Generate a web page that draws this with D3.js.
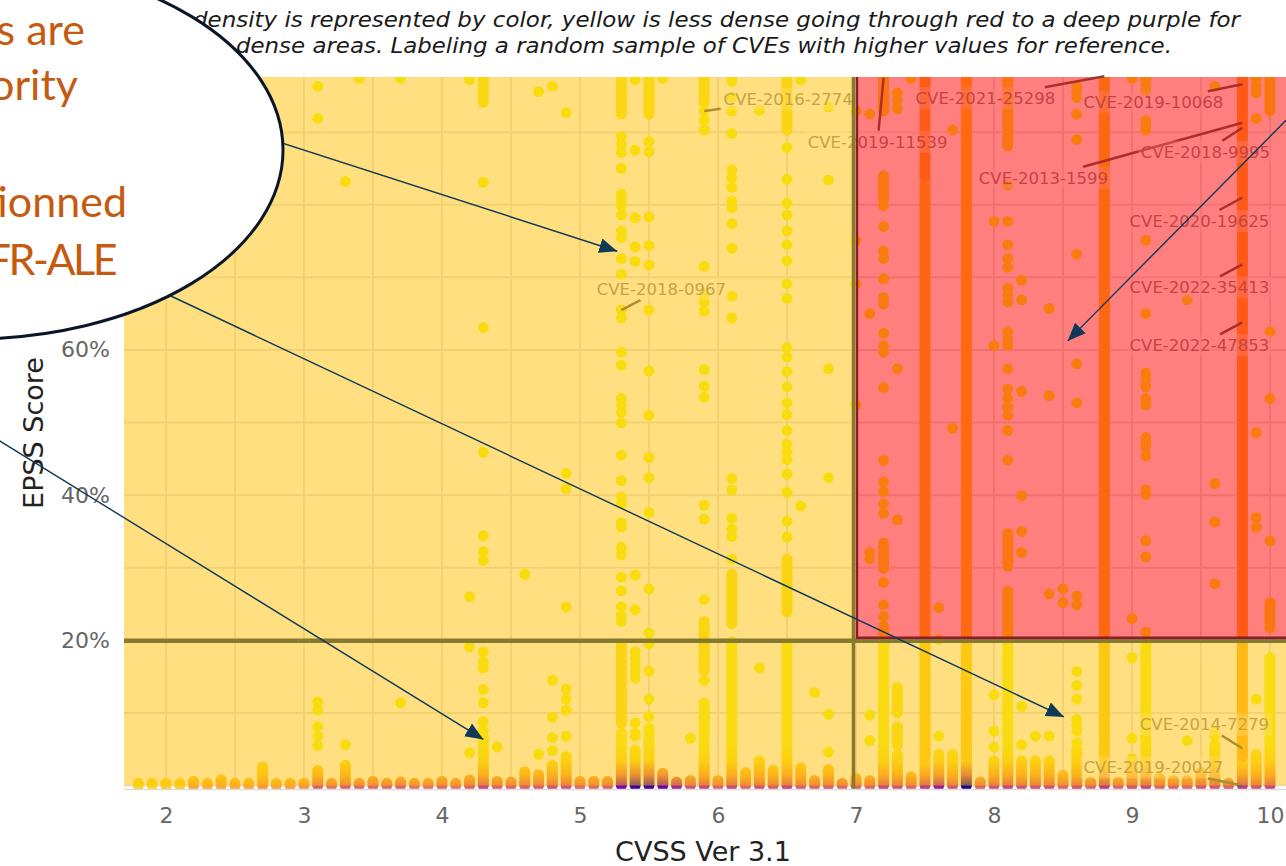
<!DOCTYPE html>
<html lang="en">
<head>
<meta charset="utf-8">
<title>CVSS vs EPSS density</title>
<script src="https://d3js.org/d3.v7.min.js"></script>
<style>
body { margin: 0; background: #fff; }
svg { display: block; font-family: "DejaVu Sans", sans-serif; }
</style>
</head>
<body>
<script>
// ---- data -----------------------------------------------------------
// every CVSS column, the top of its dense bottom stack (EPSS %) and the
// density level at EPSS ~ 0 (plasma scale, 1 = sparse yellow, 0 = dense purple)
var baseCvss = [1.8, 1.9, 2.0, 2.1, 2.2, 2.3, 2.4, 2.5, 2.6, 2.7, 2.8, 2.9, 3.0,
  3.1, 3.2, 3.3, 3.4, 3.5, 3.6, 3.7, 3.8, 3.9, 4.0, 4.1, 4.2, 4.3, 4.4, 4.5, 4.6,
  4.7, 4.8, 4.9, 5.0, 5.1, 5.2, 5.3, 5.4, 5.5, 5.6, 5.7, 5.8, 5.9, 6.0, 6.1, 6.2,
  6.3, 6.4, 6.5, 6.6, 6.7, 6.8, 6.9, 7.0, 7.1, 7.2, 7.3, 7.4, 7.5, 7.6, 7.7, 7.8,
  7.9, 8.0, 8.1, 8.2, 8.3, 8.4, 8.5, 8.6, 8.7, 8.8, 8.9, 9.0, 9.1, 9.2, 9.3, 9.4,
  9.5, 9.6, 9.7, 9.8, 9.9, 10.0];
var baseTop = [0.3, 0.3, 0.3, 0.3, 0.6, 0.3, 0.8, 0.3, 0.3, 2.6, 0.3, 0.3, 0.3,
  2.1, 0.3, 2.8, 0.3, 0.6, 0.3, 0.5, 0.3, 0.3, 0.6, 0.3, 0.8, 6.7, 0.6, 0.5, 1.9,
  1.5, 2.8, 4.0, 0.6, 0.6, 0.6, 7.2, 4.9, 7.3, 1.7, 0.5, 0.7, 11.4, 0.7, 19.8, 1.8,
  3.4, 2.1, 19.5, 2.4, 0.7, 2.2, 0.3, 1.0, 0.7, 22.0, 4.3, 1.2, 5.0, 4.3, 4.3, 5.0,
  0.5, 3.4, 26.8, 3.4, 3.4, 3.4, 1.4, 4.9, 0.5, 5.0, 0.5, 3.7, 19.8, 1.0, 0.7, 0.7,
  1.8, 5.6, 0.3, 5.0, 4.3, 17.6];
var baseFloor = [0.92, 0.92, 0.9, 0.9, 0.8, 0.82, 0.8, 0.8, 0.8, 0.75, 0.8, 0.78, 0.75,
  0.6, 0.65, 0.6, 0.62, 0.62, 0.62, 0.6, 0.65, 0.65, 0.62, 0.65, 0.6, 0.5, 0.6, 0.6, 0.58,
  0.58, 0.55, 0.55, 0.62, 0.62, 0.6, 0.25, 0.08, 0.1, 0.2, 0.38, 0.55, 0.5, 0.6, 0.5, 0.6,
  0.55, 0.58, 0.5, 0.58, 0.6, 0.58, 0.6, 0.6, 0.6, 0.5, 0.55, 0.6, 0.45, 0.35, 0.55, 0.02,
  0.6, 0.55, 0.5, 0.55, 0.55, 0.55, 0.6, 0.55, 0.6, 0.45, 0.6, 0.55, 0.5, 0.6, 0.6, 0.6,
  0.55, 0.55, 0.6, 0.45, 0.55, 0.5];

// dense vertical runs: [cvss, from EPSS %, to EPSS %, density level]
var runs = [
  [4.3, 94.1, 97.6, 0.98],
  [5.3, 92.5, 97.6, 0.97], [5.3, 8.6, 19.5, 0.96],
  [5.5, 92.5, 97.6, 0.97],
  [5.9, 94.1, 97.6, 0.97], [5.9, 15.9, 22.6, 0.96],
  [6.1, 22.3, 29.1, 0.96],
  [6.5, 90.3, 97.6, 0.96], [6.5, 23.9, 31.2, 0.96],
  [7.2, 92.9, 97.6, 0.96], [7.2, 80.8, 84.0, 0.97], [7.2, 29.9, 33.4, 0.97],
  [7.3, 10.0, 13.5, 0.97], [7.3, 5.6, 8.1, 0.97],
  [7.5, 4.0, 84.0, 0.9], [7.5, 84.0, 97.6, 0.84],
  [7.8, 4.0, 97.6, 0.91],
  [8.1, 88.1, 97.6, 0.96], [8.1, 30.2, 34.7, 0.97],
  [8.8, 4.0, 97.6, 0.9],
  [9.8, 4.0, 97.6, 0.83],
  [10.0, 92.9, 97.3, 0.97], [10.0, 21.7, 25.2, 0.97]
];

// isolated CVEs, grouped by CVSS column (EPSS %)
var scatterCols = [3.1, 3.3, 3.4, 3.7, 4.2, 4.3, 4.4, 4.6, 4.7, 4.8, 4.9, 5.3, 5.4,
  5.5, 5.6, 5.8, 5.9, 6.1, 6.3, 6.5, 6.6, 6.7, 6.8, 7.0, 7.1, 7.2, 7.3, 7.4, 7.6, 7.7,
  8.0, 8.1, 8.2, 8.3, 8.4, 8.5, 8.6, 9.0, 9.1, 9.4, 9.6, 9.9, 10.0];
var scatterEpss = [
  [96.3, 91.9, 11.5, 10.4, 8.1, 6.8, 5.5],
  [83.2, 5.6],
  [97.4],
  [97.4, 11.4],
  [97.2, 26.0, 19.1, 4.5],
  [83.1, 63.1, 45.9, 34.4, 32.2, 31.0, 18.4, 17.0, 16.2, 13.2, 11.4, 8.8, 7.6],
  [5.3],
  [29.1],
  [95.6, 4.3],
  [96.3, 14.5, 9.4, 6.6, 4.8],
  [92.7, 43.0, 40.9, 24.6, 13.3, 11.9, 10.4, 6.8],
  [89.4, 88.3, 87.2, 85.0, 81.5, 80.7, 79.9, 78.6, 76.4, 75.5, 72.6, 70.4, 65.5, 64.4,
   59.7, 57.9, 53.3, 52.4, 51.4, 50.0, 45.5, 42.0, 39.7, 38.8, 36.2, 35.6, 32.8, 31.8,
   28.7, 26.8, 24.6, 23.4, 22.6],
  [97.2, 87.5, 78.2, 74.2, 72.2, 29.0, 24.2, 18.4, 17.6, 16.6, 15.7, 14.8, 8.6, 7.2, 6.8],
  [88.7, 87.3, 78.3, 74.4, 71.7, 65.5, 57.1, 51.0, 45.2, 42.4, 37.6, 27.1, 21.0, 19.5,
   15.8, 11.9, 9.5, 7.9],
  [97.4],
  [6.5],
  [92.9, 91.6, 90.3, 71.5, 67.6, 66.6, 65.3, 57.3, 55.0, 53.5, 38.6, 36.7, 25.6, 14.5],
  [97.6, 97.0, 94.8, 92.9, 89.8, 84.8, 83.7, 82.4, 80.5, 79.6, 77.4, 74.0, 67.4, 64.4,
   42.3, 40.7, 36.8, 35.3, 34.3, 31.2],
  [93.0, 16.2],
  [87.9, 83.5, 80.2, 78.6, 76.4, 74.5, 72.3, 69.1, 67.1, 60.3, 59.0, 57.0, 54.9, 52.7,
   51.1, 48.9, 47.0, 45.9, 44.9, 42.9, 40.4, 36.4, 34.2],
  [97.2, 38.5],
  [12.8],
  [93.5, 83.4, 57.4, 42.4, 9.8, 4.6],
  [92.9, 75.1, 69.1, 52.5],
  [92.5, 65.0, 32.1, 31.2, 9.7, 6.2],
  [79.9, 77.0, 73.6, 72.6, 69.8, 67.2, 66.3, 62.3, 60.6, 59.7, 54.8, 44.8, 41.8, 40.5,
   38.8, 37.5, 28.0, 24.9, 23.3],
  [95.4, 94.3, 93.2, 57.4, 36.6],
  [97.4],
  [24.5, 20.1, 6.8],
  [90.3, 49.2],
  [77.7, 60.6, 12.5, 7.5, 5.3],
  [82.7, 77.7, 74.5, 72.6, 71.4, 68.5, 67.6, 66.6, 62.5, 61.5, 60.6, 57.4, 54.6, 53.3,
   52.1, 51.0, 48.9, 44.8],
  [69.6, 66.9, 54.3, 39.9, 35.0, 32.1, 10.9, 5.6],
  [6.8],
  [65.7, 53.7, 26.4, 6.8],
  [27.1, 25.2],
  [96.3, 95.5, 94.8, 92.5, 89.0, 73.2, 58.1, 52.7, 26.1, 24.9, 15.7, 13.8, 11.9, 9.1,
   8.3, 7.5, 5.9],
  [97.4, 23.0, 17.6, 6.5],
  [97.3, 96.5, 95.7, 91.6, 90.9, 90.3, 75.1, 65.0, 56.8, 55.9, 54.9, 53.3, 52.4, 47.9,
   47.2, 46.6, 45.4, 40.7, 40.1, 33.7, 31.5, 21.1],
  [66.9, 6.2],
  [96.3, 41.6, 36.3, 27.8, 7.5, 6.8],
  [97.3, 96.3, 95.4, 91.9, 48.6, 36.9, 35.6, 11.9],
  [62.5, 53.3, 33.7]
];

// labelled CVEs: [id, cvss, epss %]
var cveLabels = [
  ["CVE-2016-2774", 5.9, 92.9],
  ["CVE-2019-11539", 7.2, 97.5],
  ["CVE-2021-25298", 8.8, 97.7],
  ["CVE-2019-10068", 9.8, 96.6],
  ["CVE-2013-1599", 9.8, 91.3],
  ["CVE-2018-9995", 9.8, 90.6],
  ["CVE-2020-19625", 9.8, 81.0],
  ["CVE-2022-35413", 9.8, 71.8],
  ["CVE-2022-47853", 9.8, 63.8],
  ["CVE-2018-0967", 5.3, 65.5],
  ["CVE-2014-7279", 9.8, 5.1],
  ["CVE-2019-20027", 9.8, 0.0]
];
// where each label text sits relative to its point (px)
var labelOffsets = [[84, -12], [-6, 64], [-119, 22], [-89, 18], [-199, 55], [-37, 24],
  [-43, 23.5], [-43, 23], [-43, 23], [40, -21], [-38, -24], [-89, -18]];

var xTicks = [2, 3, 4, 5, 6, 7, 8, 9, 10];
var yTicks = [20, 40, 60];
var cvssCut = 7, epssCut = 20;

var titleLines = [
  "density is represented by color, yellow is less dense going through red to a deep purple for",
  "dense areas. Labeling a random sample of CVEs with higher values for reference."
];
var calloutLines = ["These CVEs are", "high priority", "mentionned", "CERT-FR-ALE"];

// arrow tips in data space [cvss, epss]; tails are in the callout (px)
var arrowTips = [[5.27, 73.6], [8.507, 9.44], [4.30, 6.35], [8.534, 61.25]];
var arrowTails = [[240, 129.4], [120, 272], [-20, 428.8], [1310, 96]];

// ---- layout ---------------------------------------------------------
var W = 1286, H = 866, R = 5.5;
var x = d3.scaleLinear().domain([1.696, 10.3]).range([124, 1311.4]);
var y = d3.scaleLinear().domain([-0.48, 97.6]).range([789, 77]);
var pl = x.range()[0], pr = x.range()[1], pt = y.range()[1], pb = y.range()[0];
var plasma = d3.interpolatePlasma;

var svg = d3.select("body").append("svg")
    .attr("width", W)
    .attr("height", H);
var defs = svg.append("defs");

defs.append("clipPath").attr("id", "plotClip")
  .append("rect")
    .attr("x", pl).attr("y", pt)
    .attr("width", pr - pl).attr("height", pb - pt);

defs.append("marker")
    .attr("id", "head")
    .attr("viewBox", "0 0 18 15")
    .attr("refX", 18).attr("refY", 7.5)
    .attr("markerWidth", 18).attr("markerHeight", 15)
    .attr("markerUnits", "userSpaceOnUse")
    .attr("orient", "auto")
  .append("path")
    .attr("d", "M0,0L18,7.5L0,15Z")
    .attr("fill", "#0f3859");

// colour ramp of each bottom stack, from its floor density up to sparse yellow
baseCvss.forEach(function(c, i) {
  var tf = baseFloor[i];
  var g = defs.append("linearGradient")
      .attr("id", "base" + i)
      .attr("gradientUnits", "userSpaceOnUse")
      .attr("x1", 0).attr("x2", 0)
      .attr("y1", y(-0.7)).attr("y2", y(6));
  [[-0.7, tf], [0.2, tf], [1.5, tf + (1 - tf) * 0.55], [3.5, 0.95], [6, 0.995]].forEach(function(s) {
    g.append("stop")
      .attr("offset", (y(s[0]) - y(-0.7)) / (y(6) - y(-0.7)))
      .attr("stop-color", plasma(s[1]));
  });
});

// plot layer (everything under the translucent zones)
var plot = svg.append("g").attr("clip-path", "url(#plotClip)");

plot.selectAll(".vgrid")
  .data(x.ticks(18))
  .enter().append("line")
    .attr("x1", function(d) { return x(d); })
    .attr("x2", function(d) { return x(d); })
    .attr("y1", pt).attr("y2", pb)
    .attr("stroke", "#e3e3e3").attr("stroke-width", 2);

plot.selectAll(".hgrid")
  .data(y.ticks(10))
  .enter().append("line")
    .attr("x1", pl).attr("x2", pr)
    .attr("y1", function(d) { return y(d); })
    .attr("y2", function(d) { return y(d); })
    .attr("stroke", "#e3e3e3").attr("stroke-width", 2);

// bottom stacks
plot.selectAll(".base")
  .data(baseCvss.map(function(c, i) { return { c: c, top: baseTop[i], i: i }; }))
  .enter().append("rect")
    .attr("x", function(d) { return x(d.c) - R; })
    .attr("y", function(d) { return y(d.top) - R; })
    .attr("width", 2 * R)
    .attr("height", function(d) { return y(0) - y(d.top) + 2 * R; })
    .attr("rx", R)
    .attr("fill", function(d) { return "url(#base" + d.i + ")"; });

// dense runs
plot.selectAll(".run")
  .data(runs)
  .enter().append("rect")
    .attr("x", function(d) { return x(d[0]) - R; })
    .attr("y", function(d) { return y(d[2]) - R; })
    .attr("width", 2 * R)
    .attr("height", function(d) { return y(d[1]) - y(d[2]) + 2 * R; })
    .attr("rx", R)
    .attr("fill", function(d) { return plasma(d[3]); });

// isolated points
var pts = [];
scatterCols.forEach(function(c, i) {
  scatterEpss[i].forEach(function(e) { pts.push([c, e]); });
});
plot.selectAll(".pt")
  .data(pts)
  .enter().append("circle")
    .attr("cx", function(d) { return x(d[0]); })
    .attr("cy", function(d) { return y(d[1]); })
    .attr("r", R)
    .attr("fill", plasma(1));

// CVE labels with leader lines
var lab = svg.append("g");
cveLabels.forEach(function(d, i) {
  var px = x(d[1]), py = y(d[2]);
  var cx = px + labelOffsets[i][0], cy = py + labelOffsets[i][1];
  var bg = lab.append("rect");
  var t = lab.append("text")
      .attr("x", cx).attr("y", cy).attr("dy", "0.36em")
      .attr("text-anchor", "middle")
      .attr("font-size", 16.5)
      .attr("fill", "#888")
      .text(d[0]);
  var hw = t.node().getComputedTextLength() / 2 + 3, hh = 11;
  bg.attr("x", cx - hw).attr("y", cy - hh)
    .attr("width", 2 * hw).attr("height", 2 * hh)
    .attr("fill", "#fff").attr("opacity", 0.35);
  var dx = px - cx, dy = py - cy;
  var s = Math.min(hw / Math.max(Math.abs(dx), 1e-6), hh / Math.max(Math.abs(dy), 1e-6));
  lab.append("line")
      .attr("x1", cx + dx * s).attr("y1", cy + dy * s)
      .attr("x2", px).attr("y2", py)
      .attr("stroke", "#5a5a5a").attr("stroke-width", 2.5);
});

// translucent zones
var zones = svg.append("g").attr("clip-path", "url(#plotClip)");
zones.append("rect")
    .attr("x", pl).attr("y", pt)
    .attr("width", x(cvssCut) - pl).attr("height", y(0) - pt)
    .attr("fill", "rgb(255,191,0)").attr("opacity", 0.5);
zones.append("rect")
    .attr("x", x(cvssCut)).attr("y", y(epssCut))
    .attr("width", pr - x(cvssCut)).attr("height", y(0) - y(epssCut))
    .attr("fill", "rgb(255,191,0)").attr("opacity", 0.5);
zones.append("rect")
    .attr("x", x(cvssCut)).attr("y", pt)
    .attr("width", pr - x(cvssCut)).attr("height", y(epssCut) - pt)
    .attr("fill", "rgb(255,0,0)").attr("opacity", 0.5);

// threshold lines
zones.append("line")
    .attr("x1", pl).attr("x2", pr)
    .attr("y1", y(epssCut) + 0.5).attr("y2", y(epssCut) + 0.5)
    .attr("stroke", "#857a30").attr("stroke-width", 4.5);
zones.append("line")
    .attr("x1", x(cvssCut) - 2.5).attr("x2", x(cvssCut) - 2.5)
    .attr("y1", pt).attr("y2", pb)
    .attr("stroke", "#857a30").attr("stroke-width", 3.5);
zones.append("path")
    .attr("d", "M" + (x(cvssCut) + 1) + "," + pt + "V" + (y(epssCut) - 2.5) + "H" + pr)
    .attr("fill", "none")
    .attr("stroke", "#8e1b2b").attr("stroke-width", 2.5);

svg.append("line")
    .attr("x1", pl).attr("x2", pr)
    .attr("y1", pb + 0.5).attr("y2", pb + 0.5)
    .attr("stroke", "#dcdcdc").attr("stroke-width", 1.5);

// axes
var xAxis = svg.append("g")
    .attr("transform", "translate(0," + pb + ")")
    .call(d3.axisBottom(x).tickValues(xTicks).tickSize(0).tickPadding(18));
var yAxis = svg.append("g")
    .attr("transform", "translate(" + pl + ",0)")
    .call(d3.axisLeft(y).tickValues(yTicks).tickSize(0).tickPadding(14)
      .tickFormat(function(d) { return d + "%"; }));
[xAxis, yAxis].forEach(function(a) {
  a.select(".domain").remove();
  a.selectAll("text")
    .attr("font-family", "'DejaVu Sans', sans-serif")
    .attr("font-size", 22)
    .attr("fill", "#666");
});

svg.append("text")
    .attr("x", 703).attr("y", 861)
    .attr("text-anchor", "middle")
    .attr("font-size", 27)
    .attr("fill", "#222")
    .text("CVSS Ver 3.1");
svg.append("text")
    .attr("transform", "translate(43,433) rotate(-90)")
    .attr("text-anchor", "middle")
    .attr("font-size", 27)
    .attr("fill", "#222")
    .text("EPSS Score");

// title
svg.append("text")
    .attr("x", 193).attr("y", 27)
    .attr("font-size", 21).attr("font-style", "italic")
    .attr("textLength", 1047).attr("lengthAdjust", "spacingAndGlyphs")
    .attr("fill", "#1a1a1a")
    .text(titleLines[0]);
svg.append("text")
    .attr("x", 236).attr("y", 53)
    .attr("font-size", 21).attr("font-style", "italic")
    .attr("textLength", 936).attr("lengthAdjust", "spacingAndGlyphs")
    .attr("fill", "#1a1a1a")
    .text(titleLines[1]);

// arrows
svg.selectAll(".arrow")
  .data(arrowTips)
  .enter().append("line")
    .attr("x1", function(d, i) { return arrowTails[i][0]; })
    .attr("y1", function(d, i) { return arrowTails[i][1]; })
    .attr("x2", function(d) { return x(d[0]); })
    .attr("y2", function(d) { return y(d[1]); })
    .attr("stroke", "#0f3859").attr("stroke-width", 1.4)
    .attr("marker-end", "url(#head)");

// callout bubble
svg.append("ellipse")
    .attr("cx", -30).attr("cy", 150)
    .attr("rx", 313).attr("ry", 189)
    .attr("fill", "#fff")
    .attr("stroke", "#0a1628").attr("stroke-width", 3);

var calloutEnds = [85, 78, 127, 115];
var calloutBase = [45, 100, 217, 275];
var calloutSpacing = [0, 0, 0, -2.5];
svg.selectAll(".callout")
  .data(calloutLines)
  .enter().append("text")
    .attr("x", function(d, i) { return calloutEnds[i]; })
    .attr("y", function(d, i) { return calloutBase[i]; })
    .attr("text-anchor", "end")
    .attr("font-family", "Lato, sans-serif")
    .attr("font-size", 43)
    .attr("letter-spacing", function(d, i) { return calloutSpacing[i]; })
    .attr("fill", "#c55a11")
    .text(function(d) { return d; });
</script>
</body>
</html>
